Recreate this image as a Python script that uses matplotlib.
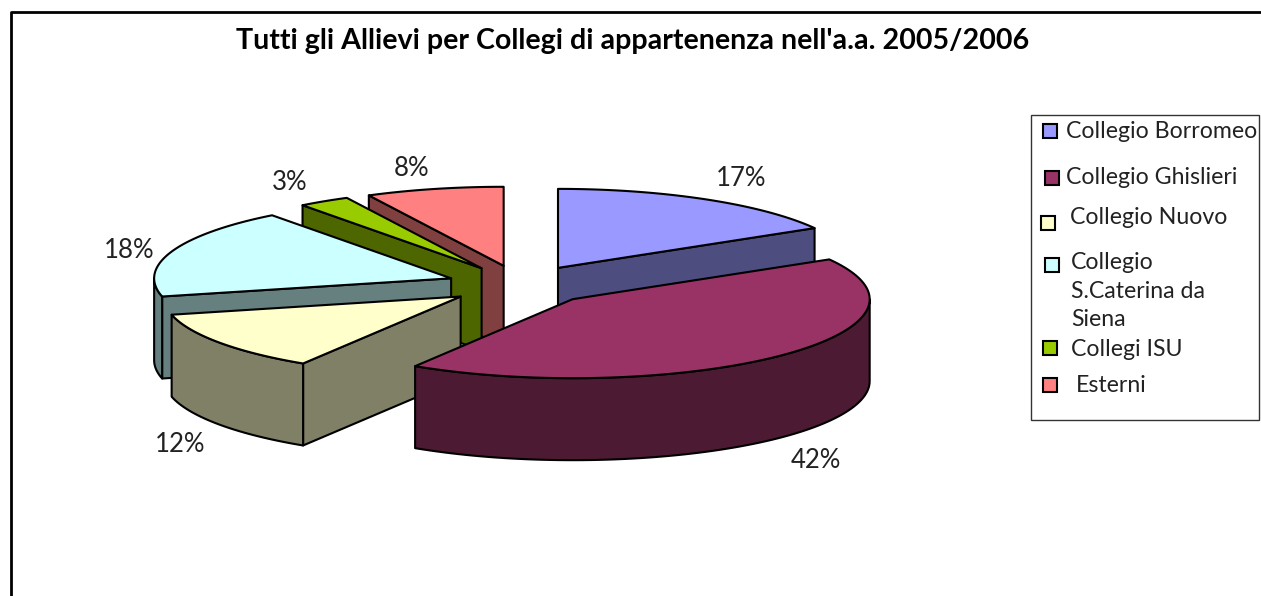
import matplotlib
matplotlib.use("Agg")
import matplotlib.pyplot as plt
import matplotlib.colors as mcolors
from matplotlib.patches import Polygon, Rectangle
import numpy as np

plt.rcParams['font.family'] = ['Lato', 'DejaVu Sans']

title = "Tutti gli Allievi per Collegi di appartenenza nell'a.a. 2005/2006"
categories = ["Collegio Borromeo", "Collegio Ghislieri", "Collegio Nuovo",
              "Collegio\nS.Caterina da\nSiena", "Collegi ISU", "Esterni"]
# the labels show them rounded
shares = [16.6, 42.3, 12.4, 18.4, 2.8, 7.5]
colors = ["#9999FF", "#993366", "#FFFFCC", "#CCFFFF", "#99CC00", "#FF8080"]

# layout in pixels of the picture
label_pos = [(741, 179), (816, 461), (180, 444), (129, 250), (290, 182), (412, 168)]
swatch_pos = [(1050, 131), (1052, 178), (1048, 223), (1052, 265), (1050, 348), (1050, 385)]
legend_text_pos = [(1066, 132), (1066, 177), (1070, 218), (1071, 291), (1071, 349), (1076, 385)]
draw_order = [5, 4, 3, 0, 2, 1]

cx, cy = 521, 285
rx, ry = 297, 79
depth = 82
explode = 0.25
edge = dict(edgecolor="black", linewidth=1.5, joinstyle="round")


def rim(apex, angles):
    # clockwise from 12 o'clock, squashed into the tilted ellipse
    return np.column_stack([apex[0] + rx * np.sin(angles), apex[1] - ry * np.cos(angles)])


def draw_slice(ax, t1, t2, color):
    side = tuple(c * 0.5 for c in mcolors.to_rgb(color))
    mid = (t1 + t2) / 2
    apex = np.array([cx + explode * rx * np.sin(mid), cy - explode * ry * np.cos(mid)])
    down = np.array([0, depth])

    # cut faces turned to the viewer
    for t, visible in ((t1, np.sin(t1) < -1e-6), (t2, np.sin(t2) > 1e-6)):
        if visible:
            p = rim(apex, np.array([t]))[0]
            ax.add_patch(Polygon([apex, p, p + down, apex + down], facecolor=side, **edge))

    # outer wall, front half only
    a, b = max(t1, np.pi / 2), min(t2, 3 * np.pi / 2)
    if b > a:
        arc = rim(apex, np.linspace(a, b, 80))
        ax.add_patch(Polygon(np.vstack([arc, arc[::-1] + down]), facecolor=side, **edge))

    # top
    arc = rim(apex, np.linspace(t1, t2, 120))
    ax.add_patch(Polygon(np.vstack([apex, arc]), facecolor=color, **edge))


fig = plt.figure(figsize=(12.61, 5.96), dpi=100)
ax = fig.add_axes([0, 0, 1, 1])
ax.set_xlim(0, 1261)
ax.set_ylim(596, 0)
ax.axis("off")

# chart frame, runs off the picture on the right and at the bottom
ax.plot([11, 11, 1270], [600, 12, 12], color="black", lw=2)

ax.text(633, 41, title, fontsize=20.6, fontweight="bold", ha="center", va="center")

edges = np.cumsum([0] + shares) / sum(shares) * 2 * np.pi
for i in draw_order:
    draw_slice(ax, edges[i], edges[i + 1], colors[i])

for share, (x, y) in zip(shares, label_pos):
    ax.text(x, y, f"{share:.0f}%", fontsize=18.5, ha="center", va="center", color="#222222")

ax.add_patch(Rectangle((1031, 115), 228, 305, facecolor="white", edgecolor="#333333", lw=1))
for name, color, (sx, sy), (tx, ty) in zip(categories, colors, swatch_pos, legend_text_pos):
    ax.add_patch(Rectangle((sx - 7, sy - 7), 14, 14, facecolor=color, edgecolor="black", lw=1.5))
    ax.text(tx, ty, name, fontsize=16.7, ha="left", va="center", linespacing=1.45, color="#222222")

fig.savefig("out.png", dpi=100)
